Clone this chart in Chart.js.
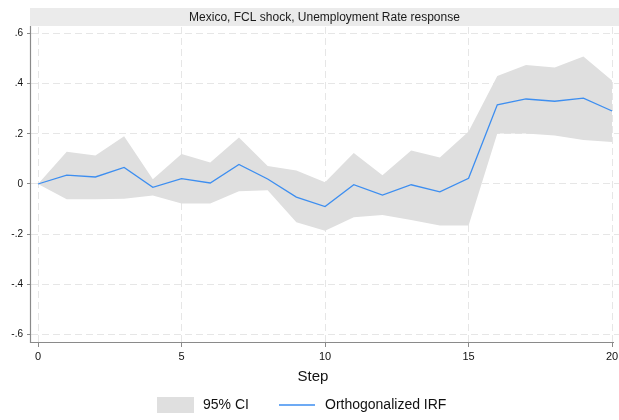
<!DOCTYPE html>
<html>
<head>
<meta charset="utf-8">
<script src="https://cdn.jsdelivr.net/npm/chart.js@4"></script>
<style>
  html, body { margin: 0; padding: 0; background: #ffffff; }
  #wrap { width: 619px; height: 420px; position: relative; }
</style>
</head>
<body>
<div id="wrap"><canvas id="irf" width="619" height="420"></canvas></div>
<script>
// Impulse-response horizon
const steps = [0, 1, 2, 3, 4, 5, 6, 7, 8, 9, 10, 11, 12, 13, 14, 15, 16, 17, 18, 19, 20];

// Orthogonalized IRF of the unemployment rate to an FCL shock
const irf = [0, 0.035, 0.028, 0.066, -0.013, 0.021, 0.004, 0.078, 0.020, -0.052, -0.090,
             -0.003, -0.044, -0.003, -0.031, 0.023, 0.316, 0.339, 0.330, 0.342, 0.291];

// 95% confidence band
const ciUpper = [0, 0.129, 0.114, 0.190, 0.019, 0.120, 0.086, 0.185, 0.072, 0.054, 0.007,
                 0.124, 0.035, 0.134, 0.106, 0.209, 0.431, 0.474, 0.465, 0.508, 0.412];
const ciLower = [0, -0.061, -0.061, -0.059, -0.046, -0.078, -0.078, -0.029, -0.025, -0.153, -0.186,
                 -0.133, -0.124, -0.144, -0.165, -0.165, 0.201, 0.201, 0.193, 0.175, 0.167];

// Axis ticks and labels
const xTicks = [0, 5, 10, 15, 20];
const yTicks = [-0.6, -0.4, -0.2, 0, 0.2, 0.4, 0.6];
const yTickLabels = ['-.6', '-.4', '-.2', '0', '.2', '.4', '.6'];

const titleText = 'Mexico, FCL shock, Unemployment Rate response';
const xTitle = 'Step';
const legendCI = '95% CI';
const legendIRF = 'Orthogonalized IRF';

const FONT = '"Liberation Sans", Arial, Helvetica, sans-serif';
const BAND = '#dfdfdf';
const LINE = '#3d8ef0';
const AXIS = '#8a8a8a';
const GRID = '#e6e6e6';

const pts = (ys) => steps.map((s, i) => ({ x: s, y: ys[i] }));

// Title bar, axis lines, x-axis title and legend
const decorations = {
  id: 'decorations',
  afterDraw(chart) {
    const { ctx, chartArea } = chart;
    ctx.save();
    // title bar
    ctx.fillStyle = '#ebebeb';
    ctx.fillRect(30, 8, 589, 18);
    ctx.fillStyle = '#1a1a1a';
    ctx.font = '12px ' + FONT;
    ctx.textAlign = 'center';
    ctx.textBaseline = 'middle';
    ctx.fillText(titleText, 324.5, 17.5);

    // axis lines
    ctx.strokeStyle = AXIS;
    ctx.lineWidth = 1.2;
    ctx.beginPath();
    ctx.moveTo(chartArea.left - 0.5, chartArea.top - 1);
    ctx.lineTo(chartArea.left - 0.5, chartArea.bottom - 0.5);
    ctx.lineTo(614, chartArea.bottom - 0.5);
    ctx.stroke();

    // x-axis title
    ctx.fillStyle = '#111111';
    ctx.font = '15px ' + FONT;
    ctx.fillText(xTitle, 313, 377);

    // legend
    ctx.font = '14px ' + FONT;
    ctx.textAlign = 'left';
    ctx.fillStyle = BAND;
    ctx.fillRect(157, 397, 37, 16);
    ctx.fillStyle = '#111111';
    ctx.fillText(legendCI, 203, 405.5);
    ctx.strokeStyle = LINE;
    ctx.lineWidth = 1.3;
    ctx.beginPath();
    ctx.moveTo(279, 405);
    ctx.lineTo(315, 405);
    ctx.stroke();
    ctx.fillStyle = '#111111';
    ctx.fillText(legendIRF, 325, 405.5);
    ctx.restore();
  }
};

new Chart(document.getElementById('irf'), {
  type: 'line',
  data: {
    datasets: [
      {
        label: 'ci-upper',
        data: pts(ciUpper),
        borderWidth: 0,
        borderColor: 'rgba(0,0,0,0)',
        backgroundColor: BAND,
        pointRadius: 0,
        fill: '+1',
        order: 2
      },
      {
        label: 'ci-lower',
        data: pts(ciLower),
        borderWidth: 0,
        borderColor: 'rgba(0,0,0,0)',
        pointRadius: 0,
        fill: false,
        order: 3
      },
      {
        label: legendIRF,
        data: pts(irf),
        borderColor: LINE,
        borderWidth: 1.3,
        pointRadius: 0,
        fill: false,
        tension: 0,
        order: 0
      }
    ]
  },
  options: {
    responsive: false,
    animation: false,
    devicePixelRatio: 1,
    layout: { padding: { top: 27, left: 0, right: 0, bottom: 57 } },
    plugins: {
      legend: { display: false },
      title: { display: false },
      tooltip: { enabled: false }
    },
    scales: {
      x: {
        type: 'linear',
        min: -0.244,
        max: 20.24,
        afterBuildTicks: (scale) => { scale.ticks = xTicks.map(v => ({ value: v })); },
        afterFit: (scale) => {
          scale.height = 20;
          scale.paddingLeft = 0;
          scale.paddingRight = 0;
        },
        grid: {
          color: GRID,
          lineWidth: 1,
          drawTicks: true,
          tickLength: 4,
          tickColor: AXIS,
          tickWidth: 1
        },
        border: { display: false, dash: [7, 4] },
        ticks: {
          autoSkip: false,
          maxRotation: 0,
          padding: 3,
          color: '#111111',
          font: { family: FONT, size: 11 },
          callback: (v) => String(v)
        }
      },
      y: {
        type: 'linear',
        min: -0.634,
        max: 0.626,
        afterBuildTicks: (scale) => { scale.ticks = yTicks.map(v => ({ value: v })); },
        afterFit: (scale) => {
          scale.width = 31;
          scale.paddingTop = 0;
          scale.paddingBottom = 0;
        },
        grid: {
          color: GRID,
          lineWidth: 1,
          drawTicks: true,
          tickLength: 4,
          tickColor: AXIS,
          tickWidth: 1
        },
        border: { display: false, dash: [7, 4] },
        ticks: {
          autoSkip: false,
          padding: 4,
          color: '#111111',
          font: { family: FONT, size: 10 },
          callback: (v) => {
            const i = yTicks.findIndex(t => Math.abs(t - v) < 1e-9);
            return i >= 0 ? yTickLabels[i] : '';
          }
        }
      }
    }
  },
  plugins: [decorations]
});
</script>
</body>
</html>
